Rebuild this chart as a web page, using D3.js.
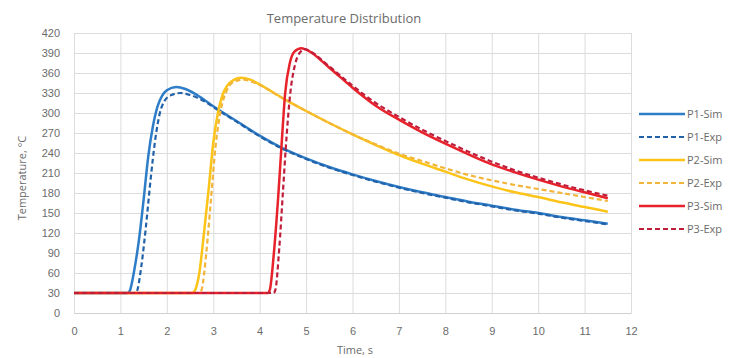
<!DOCTYPE html>
<html>
<head>
<meta charset="utf-8">
<script src="https://cdn.jsdelivr.net/npm/d3@7"></script>
<style>
  body { margin: 0; background: #fff; }
  svg { font-family: "Open Sans", "Liberation Sans", sans-serif; }
  .tick text { fill: #6b6b6b; font-size: 11px; }
  .grid line { stroke: #dcdcdc; }
</style>
</head>
<body>
<div id="chart"></div>
<script>
// values (time in s, temperature in °C)
const p1SimT = [0, 1.15, 1.2, 1.3, 1.4, 1.5, 1.6, 1.7, 1.8, 1.9, 2.0, 2.2, 2.4, 2.6, 2.8, 3.0, 3.2, 3.5, 4.0, 4.5, 5.0, 5.5, 6.0, 6.5, 7.0, 7.5, 8.0, 8.5, 9.0, 9.5, 10.0, 10.5, 11.0, 11.5];
const p1SimV = [30, 30, 33, 65, 110, 170, 235, 280, 310, 326, 334, 339, 336, 329, 320, 310, 301, 288, 266, 247, 232, 219, 208, 198, 189, 181, 174, 167, 161, 155, 150, 144, 139, 134];
const p1ExpT = [0, 1.3, 1.35, 1.45, 1.55, 1.65, 1.75, 1.85, 1.95, 2.1, 2.3, 2.5, 2.8, 3.0, 3.2, 3.5, 4.0, 4.5, 5.0, 5.5, 6.0, 6.5, 7.0, 7.5, 8.0, 8.5, 9.0, 9.5, 10.0, 10.5, 11.0, 11.5];
const p1ExpV = [30, 30, 32, 70, 130, 200, 260, 300, 318, 327, 330, 327, 318, 309, 300, 287, 265, 246, 231, 218, 207, 197, 188, 180, 173, 166, 160, 154, 149, 143, 138, 133];

const p2SimT = [0, 2.55, 2.6, 2.7, 2.8, 2.9, 3.0, 3.1, 3.2, 3.3, 3.45, 3.6, 3.8, 4.0, 4.5, 5.0, 5.5, 6.0, 6.5, 7.0, 7.5, 8.0, 8.5, 9.0, 9.5, 10.0, 10.5, 11.0, 11.5];
const p2SimV = [30, 30, 33, 60, 120, 185, 255, 300, 327, 341, 350, 353, 350, 343, 322, 303, 285, 268, 252, 237, 224, 212, 200, 190, 181, 174, 166, 159, 152];
const p2ExpT = [0, 2.7, 2.75, 2.85, 2.95, 3.05, 3.15, 3.3, 3.45, 3.65, 3.9, 4.5, 5.0, 5.5, 6.0, 6.5, 7.0, 7.5, 8.0, 8.5, 9.0, 9.5, 10.0, 10.5, 11.0, 11.5];
const p2ExpV = [30, 30, 35, 90, 170, 250, 300, 335, 347, 350, 345, 322, 303, 285, 268, 253, 239, 228, 217, 207, 199, 192, 186, 180, 174, 168];

const p3SimT = [0, 4.18, 4.22, 4.3, 4.4, 4.47, 4.55, 4.65, 4.75, 4.9, 5.0, 5.5, 6.0, 6.5, 7.0, 7.5, 8.0, 8.5, 9.0, 9.5, 10.0, 10.5, 11.0, 11.5];
const p3SimV = [30, 30, 35, 85, 175, 250, 330, 375, 392, 397, 395, 368, 338, 311, 290, 271, 254, 238, 223, 211, 200, 190, 181, 172];
const p3ExpT = [0, 4.3, 4.34, 4.42, 4.5, 4.58, 4.66, 4.76, 4.86, 4.98, 5.1, 5.5, 6.0, 6.5, 7.0, 7.5, 8.0, 8.5, 9.0, 9.5, 10.0, 10.5, 11.0, 11.5];
const p3ExpV = [30, 30, 35, 95, 180, 265, 330, 372, 390, 396, 392, 370, 341, 315, 294, 275, 258, 242, 227, 214, 203, 193, 184, 176];

const seriesNames = ["P1-Sim", "P1-Exp", "P2-Sim", "P2-Exp", "P3-Sim", "P3-Exp"];
const xTicks = d3.range(0, 13, 1);
const yTicks = d3.range(0, 421, 30);

const w = 740, h = 358;
const margin = { left: 74, right: 109, top: 33, bottom: 45 };

// build the series table from the arrays
const zip = (ts, vs) => ts.map((t, i) => ({ t: t, v: vs[i] }));
const series = [
  { name: seriesNames[0], data: zip(p1SimT, p1SimV), color: "#2e7dc8", dash: null },
  { name: seriesNames[1], data: zip(p1ExpT, p1ExpV), color: "#2262a8", dash: "5,3" },
  { name: seriesNames[2], data: zip(p2SimT, p2SimV), color: "#fcc419", dash: null },
  { name: seriesNames[3], data: zip(p2ExpT, p2ExpV), color: "#f2b53a", dash: "5,3" },
  { name: seriesNames[4], data: zip(p3SimT, p3SimV), color: "#e8222b", dash: null },
  { name: seriesNames[5], data: zip(p3ExpT, p3ExpV), color: "#c01d3a", dash: "5,3" }
];

const svg = d3.select("#chart")
  .append("svg")
  .attr("width", w)
  .attr("height", h);

const xScale = d3.scaleLinear().domain([0, 12]).range([margin.left, w - margin.right]);
const yScale = d3.scaleLinear().domain([0, 420]).range([h - margin.bottom, margin.top]);

// gridlines
svg.append("g")
  .attr("class", "grid")
  .attr("transform", "translate(0," + (h - margin.bottom) + ")")
  .call(d3.axisBottom(xScale).tickValues(xTicks).tickSize(-(h - margin.top - margin.bottom)).tickFormat(""))
  .call(g => g.select(".domain").remove());

svg.append("g")
  .attr("class", "grid")
  .attr("transform", "translate(" + margin.left + ",0)")
  .call(d3.axisLeft(yScale).tickValues(yTicks).tickSize(-(w - margin.left - margin.right)).tickFormat(""))
  .call(g => g.select(".domain").remove());

// axes (labels only)
svg.append("g")
  .attr("transform", "translate(0," + (h - margin.bottom) + ")")
  .call(d3.axisBottom(xScale).tickValues(xTicks).tickSize(0).tickPadding(14))
  .call(g => g.select(".domain").attr("stroke", "#d0d0d0"));

svg.append("g")
  .attr("transform", "translate(" + margin.left + ",0)")
  .call(d3.axisLeft(yScale).tickValues(yTicks).tickSize(0).tickPadding(14))
  .call(g => g.select(".domain").remove());

// lines
const line = d3.line()
  .x(d => xScale(d.t))
  .y(d => yScale(d.v))
  .curve(d3.curveMonotoneX);

svg.selectAll(".series")
  .data(series)
  .enter()
  .append("path")
  .attr("class", "series")
  .attr("d", d => line(d.data))
  .attr("fill", "none")
  .attr("stroke", d => d.color)
  .attr("stroke-width", d => d.dash ? 2.2 : 2.5)
  .attr("stroke-dasharray", d => d.dash);

// title and axis titles
svg.append("text")
  .attr("x", 344).attr("y", 23)
  .attr("text-anchor", "middle")
  .attr("fill", "#6b6b6b")
  .style("font-size", "13px")
  .text("Temperature Distribution");

svg.append("text")
  .attr("x", 355).attr("y", 354)
  .attr("text-anchor", "middle")
  .attr("fill", "#6b6b6b")
  .style("font-size", "11px")
  .text("Time, s");

svg.append("text")
  .attr("transform", "translate(26,178) rotate(-90)")
  .attr("text-anchor", "middle")
  .attr("fill", "#6b6b6b")
  .style("font-size", "11px")
  .text("Temperature, °C");

// legend
const legend = svg.append("g").attr("transform", "translate(639,114)");
const rows = legend.selectAll("g")
  .data(series)
  .enter()
  .append("g")
  .attr("transform", (d, i) => "translate(0," + (i * 23) + ")");

rows.append("line")
  .attr("x1", 0).attr("x2", 46)
  .attr("stroke", d => d.color)
  .attr("stroke-width", d => d.dash ? 2.2 : 2.5)
  .attr("stroke-dasharray", d => d.dash);

rows.append("text")
  .attr("x", 48).attr("dy", "0.35em")
  .attr("fill", "#6b6b6b")
  .style("font-size", "11px")
  .text(d => d.name);
</script>
</body>
</html>
